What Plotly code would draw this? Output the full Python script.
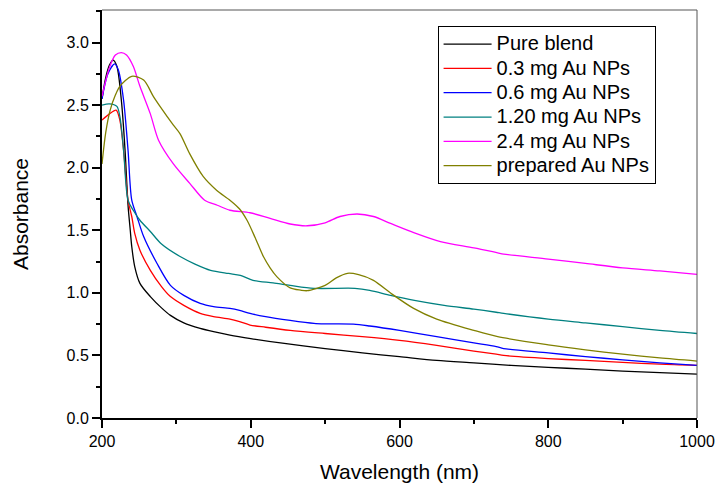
import plotly.graph_objects as go

wl_black = [200,205,210,215,220,226,231,235,238,240,244,251,265,280,292,310,332,350,372,400,440,500,550,600,650,700,750,800,850,900,950,1000]
abs_black = [2.55,2.72,2.82,2.86,2.81,2.54,2.14,1.70,1.50,1.37,1.21,1.076,0.97,0.88,0.82,0.76,0.716,0.69,0.663,0.635,0.60,0.555,0.52,0.49,0.46,0.44,0.42,0.405,0.39,0.375,0.362,0.35]

wl_red = [200,210,219,224,229,235,240,244,251,265,280,292,310,332,350,372,385,399,420,453,500,550,600,650,700,730,740,800,850,900,950,1000]
abs_red = [2.38,2.43,2.46,2.38,2.14,1.74,1.61,1.475,1.34,1.18,1.05,0.97,0.90,0.836,0.81,0.79,0.77,0.743,0.725,0.70,0.675,0.65,0.62,0.58,0.535,0.51,0.50,0.475,0.46,0.445,0.43,0.42]

wl_blue = [200,208,217,222,229,235,240,247,256,274,292,310,332,350,372,385,399,420,453,485,500,538,560,600,650,700,730,740,800,850,900,950,1000]
abs_blue = [2.55,2.75,2.83,2.78,2.54,2.14,1.74,1.61,1.45,1.235,1.06,0.98,0.916,0.89,0.876,0.86,0.836,0.81,0.78,0.756,0.752,0.75,0.735,0.70,0.65,0.60,0.57,0.555,0.52,0.49,0.465,0.44,0.42]

wl_teal = [200,210,220,224,229,235,242,251,265,280,305,325,346,370,386,403,430,453,485,540,560,588,620,660,700,730,740,800,850,900,950,1000]
abs_teal = [2.50,2.51,2.49,2.41,2.14,1.74,1.66,1.58,1.49,1.39,1.29,1.23,1.18,1.155,1.14,1.10,1.08,1.06,1.036,1.036,1.02,0.98,0.94,0.90,0.87,0.845,0.836,0.79,0.76,0.73,0.70,0.675]

wl_mag = [200,210,218,226,233,242,251,265,276,296,318,338,355,372,399,426,453,476,500,520,543,565,588,620,655,700,732,740,800,850,900,950,1000]
abs_mag = [2.57,2.80,2.90,2.92,2.90,2.81,2.65,2.43,2.22,2.03,1.875,1.74,1.70,1.66,1.64,1.595,1.55,1.536,1.56,1.61,1.63,1.61,1.555,1.48,1.41,1.36,1.32,1.31,1.27,1.235,1.20,1.175,1.148]

wl_olive = [200,205,211,218,224,240,256,269,278,296,305,318,336,354,372,385,395,406,417,426,435,453,467,476,500,515,530,545,565,590,619,650,700,732,800,850,900,950,1000]
abs_olive = [2.03,2.28,2.46,2.58,2.65,2.73,2.70,2.57,2.49,2.34,2.27,2.11,1.93,1.82,1.74,1.67,1.58,1.44,1.29,1.20,1.13,1.04,1.022,1.017,1.06,1.12,1.156,1.145,1.10,0.99,0.876,0.79,0.70,0.65,0.585,0.545,0.51,0.48,0.455]

series = [
    ("Pure blend", wl_black, abs_black, "#000000"),
    ("0.3 mg Au NPs", wl_red, abs_red, "#FF0000"),
    ("0.6 mg Au NPs", wl_blue, abs_blue, "#0000FF"),
    ("1.20 mg Au NPs", wl_teal, abs_teal, "#008080"),
    ("2.4 mg Au NPs", wl_mag, abs_mag, "#FF00FF"),
    ("prepared Au NPs", wl_olive, abs_olive, "#808000"),
]

fig = go.Figure()
for name, x, y, c in series:
    fig.add_trace(go.Scatter(x=x, y=y, name='<span style="font-size:20px">' + name + '</span>',
                             mode="lines",
                             line=dict(color=c, width=1.3, shape="spline", smoothing=0.8)))

font = "Liberation Sans, Arial, sans-serif"
fig.update_layout(
    width=716, height=486,
    margin=dict(l=102, r=19, t=10, b=68),
    paper_bgcolor="white", plot_bgcolor="white",
    font=dict(family=font, color="black", size=16),
    showlegend=True,
    legend=dict(x=0.564, y=0.961, xanchor="left", yanchor="top",
                bordercolor="black", borderwidth=1, bgcolor="white",
                font=dict(size=16.4, family=font), tracegroupgap=0, itemwidth=48),
    xaxis=dict(range=[200, 1000], tickvals=[200, 400, 600, 800, 1000], automargin=False,
               ticks="outside", ticklen=8, tickwidth=2, tickcolor="black",
               showline=True, linewidth=2, linecolor="black", showgrid=False,
               zeroline=False, tickfont=dict(size=16),
               minor=dict(tickvals=[300, 500, 700, 900], ticks="outside", ticklen=4, tickwidth=2, tickcolor="black"),
               title=dict(text="Wavelength (nm)", font=dict(size=21), standoff=15)),
    yaxis=dict(range=[0, 3.26], tickvals=[0, 0.5, 1.0, 1.5, 2.0, 2.5, 3.0], automargin=False,
               ticktext=["0.0", "0.5", "1.0", "1.5", "2.0", "2.5", "3.0"],
               ticks="outside", ticklen=8, tickwidth=2, tickcolor="black",
               showline=True, linewidth=2, linecolor="black", showgrid=False,
               zeroline=False, tickfont=dict(size=16),
               minor=dict(tickvals=[0.25, 0.75, 1.25, 1.75, 2.25, 2.75, 3.25], ticks="outside", ticklen=4, tickwidth=2, tickcolor="black"),
               title=dict(text="Absorbance", font=dict(size=21), standoff=32)),
)
fig.add_shape(type="line", xref="paper", yref="paper", x0=0, x1=1, y0=1, y1=1,
              line=dict(color="#555555", width=1))
fig.add_shape(type="line", xref="paper", yref="paper", x0=1, x1=1, y0=0, y1=1,
              line=dict(color="#555555", width=1))
fig.write_html("out.html")
